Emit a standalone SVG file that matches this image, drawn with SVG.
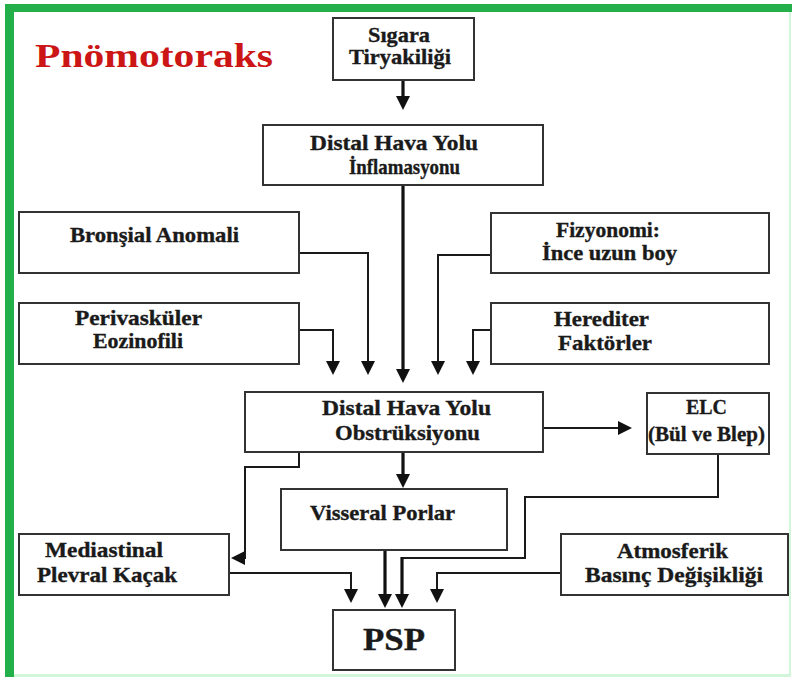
<svg xmlns="http://www.w3.org/2000/svg" width="793" height="677" viewBox="0 0 793 677">
<defs>
<style>
.box{fill:#fff;stroke:#333;stroke-width:2}
.t{font-weight:bold;font-size:21px;fill:#1a1a1a;stroke:#1a1a1a;stroke-width:0.35}
.big{font-size:32px}
.c{fill:none;stroke:#1a1a1a;stroke-width:2}
.k{fill:none;stroke:#111;stroke-width:3.2}
</style>
<marker id="ah" markerUnits="userSpaceOnUse" markerWidth="14" markerHeight="14" viewBox="0 0 14 14" refX="8" refY="7" orient="auto">
<path d="M0,0 L14,7 L0,14 z" fill="#111"/>
</marker>
</defs>
<rect x="0" y="0" width="793" height="677" fill="#fff"/>
<g id="frame">
<rect x="5" y="4" width="787" height="8" fill="#23b04b"/>
<rect x="5" y="4" width="9" height="673" fill="#23b04b"/>
<rect x="789" y="12" width="2" height="665" fill="#d2f6da"/>
<rect x="14" y="674" width="777" height="3" fill="#d2f6da"/>
</g>
<text id="title" x="35" y="67" font-family="'Liberation Serif','Times New Roman',serif" font-weight="bold" font-size="34" fill="#cc1515" textLength="238" lengthAdjust="spacingAndGlyphs">Pnömotoraks</text>
<g id="connectors">
<path class="k" d="M403,80 V104" marker-end="url(#ah)"/>
<path class="c" d="M299,253 H368 V369" marker-end="url(#ah)"/>
<path class="c" d="M299,330 H333 V369" marker-end="url(#ah)"/>
<path class="k" d="M403,185 V377" marker-end="url(#ah)"/>
<path class="c" d="M491,255 H438 V369" marker-end="url(#ah)"/>
<path class="c" d="M491,330 H473 V369" marker-end="url(#ah)"/>
<path class="c" d="M543,428 H626" marker-end="url(#ah)"/>
<path class="k" d="M403,452 V482" marker-end="url(#ah)"/>
<path class="c" d="M299,452 V467 H245 V558 H237" marker-end="url(#ah)"/>
<path class="k" d="M385,550 V602" marker-end="url(#ah)"/>
<path class="c" d="M718,454 V497 H525 V558 H402"/>
<path class="k" d="M402,557 V602" marker-end="url(#ah)"/>
<path class="c" d="M229,573 H351 V597" marker-end="url(#ah)"/>
<path class="c" d="M561,573 H437 V597" marker-end="url(#ah)"/>
</g>
<g font-family="'Liberation Serif','Times New Roman',serif">
<g id="sigara">
<rect class="box" x="333" y="18" width="141" height="62"/>
<text class="t" x="368" y="42" textLength="62" lengthAdjust="spacingAndGlyphs">Sıgara</text>
<text class="t" x="349" y="64" textLength="102" lengthAdjust="spacingAndGlyphs">Tiryakiliği</text>
</g>
<g id="inflamasyon">
<rect class="box" x="263" y="125" width="280" height="60"/>
<text class="t" x="310" y="150" textLength="168" lengthAdjust="spacingAndGlyphs">Distal Hava Yolu</text>
<text class="t" x="349" y="174" textLength="111" lengthAdjust="spacingAndGlyphs">İnflamasyonu</text>
</g>
<g id="bronsial">
<rect class="box" x="19" y="212" width="280" height="61"/>
<text class="t" x="70" y="242" textLength="169" lengthAdjust="spacingAndGlyphs">Bronşial Anomali</text>
</g>
<g id="perivaskuler">
<rect class="box" x="19" y="303" width="280" height="61"/>
<text class="t" x="75" y="325" textLength="127" lengthAdjust="spacingAndGlyphs">Perivasküler</text>
<text class="t" x="93" y="348" textLength="90" lengthAdjust="spacingAndGlyphs">Eozinofili</text>
</g>
<g id="fizyonomi">
<rect class="box" x="491" y="213" width="278" height="60"/>
<text class="t" x="556" y="237" textLength="104" lengthAdjust="spacingAndGlyphs">Fizyonomi:</text>
<text class="t" x="542" y="260" textLength="135" lengthAdjust="spacingAndGlyphs">İnce uzun boy</text>
</g>
<g id="herediter">
<rect class="box" x="491" y="303" width="278" height="61"/>
<text class="t" x="554" y="326" textLength="95" lengthAdjust="spacingAndGlyphs">Herediter</text>
<text class="t" x="558" y="350" textLength="94" lengthAdjust="spacingAndGlyphs">Faktörler</text>
</g>
<g id="obstruksiyon">
<rect class="box" x="245" y="392" width="298" height="60"/>
<text class="t" x="322" y="415" textLength="169" lengthAdjust="spacingAndGlyphs">Distal Hava Yolu</text>
<text class="t" x="335" y="440" textLength="145" lengthAdjust="spacingAndGlyphs">Obstrüksiyonu</text>
</g>
<g id="elc">
<rect class="box" x="647" y="393" width="122" height="61"/>
<text class="t" x="686" y="414" textLength="41" lengthAdjust="spacingAndGlyphs">ELC</text>
<text class="t" x="648" y="441" textLength="117" lengthAdjust="spacingAndGlyphs">(Bül ve Blep)</text>
</g>
<g id="visseral">
<rect class="box" x="281" y="489" width="226" height="61"/>
<text class="t" x="310" y="520" textLength="145" lengthAdjust="spacingAndGlyphs">Visseral Porlar</text>
</g>
<g id="mediastinal">
<rect class="box" x="19" y="534" width="210" height="61"/>
<text class="t" x="45" y="557" textLength="118" lengthAdjust="spacingAndGlyphs">Mediastinal</text>
<text class="t" x="37" y="582" textLength="140" lengthAdjust="spacingAndGlyphs">Plevral Kaçak</text>
</g>
<g id="atmosferik">
<rect class="box" x="561" y="534" width="227" height="61"/>
<text class="t" x="617" y="558" textLength="111" lengthAdjust="spacingAndGlyphs">Atmosferik</text>
<text class="t" x="585" y="582" textLength="178" lengthAdjust="spacingAndGlyphs">Basınç Değişikliği</text>
</g>
<g id="psp">
<rect class="box" x="333" y="610" width="122" height="60"/>
<text class="t big" x="363" y="650" textLength="62" lengthAdjust="spacingAndGlyphs">PSP</text>
</g>
</g>
</svg>
